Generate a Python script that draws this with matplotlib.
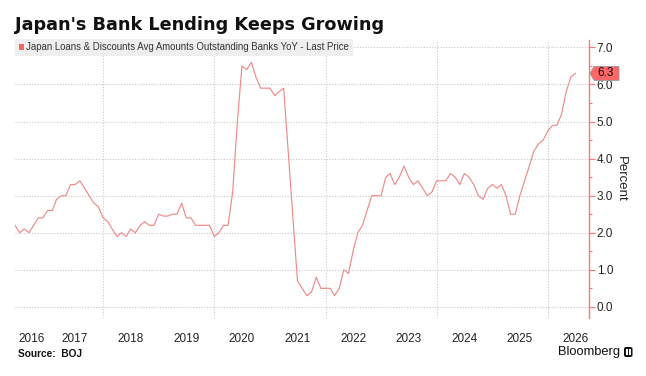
import matplotlib
matplotlib.use("Agg")
import matplotlib.pyplot as plt
import matplotlib.dates as mdates
import pandas as pd
from matplotlib.patches import Polygon, Patch, FancyBboxPatch, Rectangle
from matplotlib.transforms import IdentityTransform

# ---------------- data ----------------
title = "Japan's Bank Lending Keeps Growing"
series_name = "Japan Loans & Discounts Avg Amounts Outstanding Banks YoY - Last Price"
start_month = "2016-06-01"
values = [
    2.2, 2.0, 2.1, 2.0, 2.2, 2.4, 2.4, 2.6, 2.6, 2.9, 3.0, 3.0,
    3.3, 3.3, 3.4, 3.2, 3.0, 2.8, 2.7, 2.4, 2.3, 2.1, 1.9, 2.0,
    1.9, 2.1, 2.0, 2.2, 2.3, 2.2, 2.2, 2.5, 2.45, 2.45, 2.5, 2.5,
    2.8, 2.4, 2.4, 2.2, 2.2, 2.2, 2.2, 1.9, 2.0, 2.2, 2.2, 3.1,
    5.0, 6.5, 6.4, 6.6, 6.2, 5.9, 5.9, 5.9, 5.7, 5.8, 5.9, 4.2,
    2.4, 0.7, 0.5, 0.3, 0.4, 0.8, 0.5, 0.5, 0.5, 0.3, 0.5, 1.0,
    0.9, 1.5, 2.0, 2.2, 2.6, 3.0, 3.0, 3.0, 3.5, 3.6, 3.3, 3.5,
    3.8, 3.5, 3.3, 3.4, 3.2, 3.0, 3.1, 3.4, 3.4, 3.4, 3.6, 3.5,
    3.3, 3.6, 3.5, 3.3, 3.0, 2.9, 3.2, 3.3, 3.2, 3.3, 3.0, 2.5,
    2.5, 3.0, 3.4, 3.8, 4.2, 4.4, 4.5, 4.75, 4.9, 4.9, 5.2, 5.8,
    6.2, 6.3,
]
last_value = 6.3
year_labels = ["2016", "2017", "2018", "2019", "2020", "2021",
               "2022", "2023", "2024", "2025", "2026"]
year_label_dates = ["2016-09-15", "2017-07-01", "2018-07-01", "2019-07-01",
                    "2020-07-01", "2021-07-01", "2022-07-01", "2023-07-01",
                    "2024-07-01", "2025-07-01", "2026-07-01"]
grid_dates = ["2018-01-01", "2020-01-01", "2022-01-01", "2024-01-01", "2026-01-01"]
y_ticks = [0, 1, 2, 3, 4, 5, 6, 7]
y_minor = [0.5, 1.5, 2.5, 3.5, 4.5, 5.5, 6.5]
source = "Source:  BOJ"

# ---------------- figure ----------------
W, H = 646, 376
fig = plt.figure(figsize=(W / 100, H / 100), dpi=100)
fig.patch.set_facecolor("white")
ax = fig.add_axes([15 / W, 1 - 318 / H, (589 - 15) / W, (318 - 40) / H])

dates = pd.date_range(start_month, periods=len(values), freq="MS")
line_color = "#f08a8a"
ax.plot(dates, values, color=line_color, lw=0.85, zorder=3)

x0 = mdates.date2num(dates[0])
ax.set_xlim(x0, x0 + 123.9 * 30.437)
ax.set_ylim(-0.3, 7.2)

# spines
for s in ["top", "left", "bottom"]:
    ax.spines[s].set_visible(False)
ax.spines["right"].set_color("#f77")
ax.spines["right"].set_linewidth(1.0)

# y axis on right
ax.yaxis.tick_right()
ax.yaxis.set_label_position("right")
ax.set_yticks(y_ticks)
ax.set_yticklabels([f"{v:.1f}" for v in y_ticks])
ax.set_yticks(y_minor, minor=True)
ax.tick_params(axis="y", which="major", length=4, width=0.8, color="#f77",
               labelsize=8.5, labelcolor="#222", pad=1.5)
ax.tick_params(axis="y", which="minor", length=2.5, width=0.8, color="#f77")
for lab in ax.get_yticklabels():
    lab.set_fontfamily("Liberation Sans")
ax.set_ylabel("Percent", rotation=270, fontsize=9.5, color="#222",
              labelpad=10, family="Liberation Sans")

# x axis
ax.set_xticks(pd.to_datetime(grid_dates))
ax.set_xticklabels([])
ax.set_xticks(pd.to_datetime(year_label_dates), minor=True)
ax.set_xticklabels(year_labels, minor=True)
ax.tick_params(axis="x", which="both", length=0)
ax.tick_params(axis="x", which="minor", labelsize=8.5, labelcolor="#222", pad=11)
for lab in ax.get_xticklabels(minor=True):
    lab.set_fontfamily("Liberation Sans")

# grids
ax.grid(axis="x", which="major", linestyle=(0, (1, 1.5)), color="#c9c9c9", lw=0.8)
ax.grid(axis="y", which="major", linestyle=(0, (1, 1.5)), color="#c9c9c9", lw=0.8)
ax.grid(axis="x", which="minor", visible=False)

# legend
leg = ax.legend(handles=[Patch(facecolor="#f26666", edgecolor="none", label=series_name)],
                loc="upper left", bbox_to_anchor=(0, 1.005), frameon=True,
                fancybox=False, handlelength=0.55, handleheight=0.55,
                handletextpad=0.25, borderpad=0.4, borderaxespad=0,
                prop={"family": "Liberation Sans", "size": 6.9})
leg.get_frame().set_facecolor("#efefef")
leg.get_frame().set_edgecolor("none")
leg.get_frame().set_alpha(1)
for t in leg.get_texts():
    t.set_color("#333")
leg.set_zorder(5)

# last price tag
xd = ax.transAxes.transform((1, 0))[0]
yd = ax.transData.transform((0, last_value))[1]
tag = Polygon([(xd + 1, yd), (xd + 5, yd + 7), (xd + 30, yd + 7),
               (xd + 30, yd - 7), (xd + 5, yd - 7)], closed=True,
              facecolor="#f66", edgecolor="#999", lw=0.6,
              transform=IdentityTransform(), zorder=10)
fig.add_artist(tag)
fig.text(xd + 17, yd, f"{last_value:.1f}", transform=IdentityTransform(),
         ha="center", va="center", fontsize=8.5, color="#111",
         family="Liberation Sans", zorder=11)

# title, source, brand
fig.text(15 / W, 1 - 30 / H, title, fontsize=12.7, fontweight="bold",
         family="DejaVu Sans", va="baseline", ha="left", color="#111")
fig.text(18 / W, 1 - 354 / H, source, fontsize=7.3, fontweight="bold",
         family="Liberation Sans", va="center", ha="left", color="#111")
fig.text(620 / W, 1 - 352 / H, "Bloomberg", fontsize=9.3,
         family="Liberation Sans", va="center", ha="right", color="#111")
icon = FancyBboxPatch((624 / W, 1 - 357 / H), 8.5 / W, 10 / H,
                      boxstyle="round,pad=0,rounding_size=0.004",
                      transform=fig.transFigure, facecolor="#111",
                      edgecolor="none")
fig.add_artist(icon)
for bx in (626, 629):
    fig.add_artist(Rectangle((bx / W, 1 - 355 / H), 1.5 / W, 6 / H,
                             transform=fig.transFigure, facecolor="white",
                             edgecolor="none"))

fig.savefig("out.png", dpi=100, facecolor="white")
